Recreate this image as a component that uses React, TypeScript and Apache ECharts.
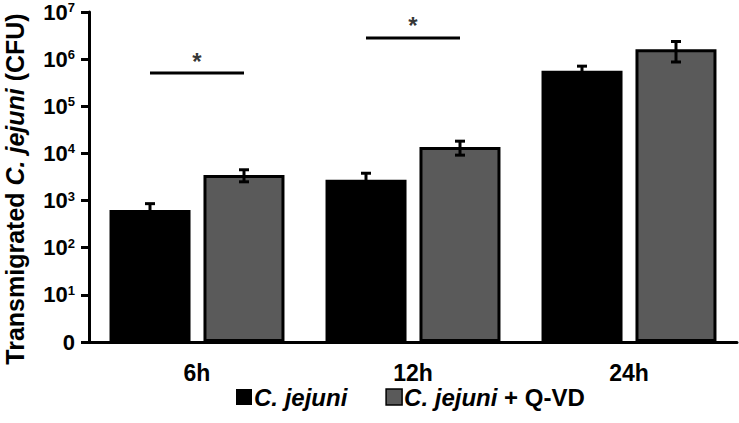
import React, { useEffect, useRef } from "react";
import * as echarts from "echarts";

const categories = ["6h", "12h", "24h"];
const cjejuni = [630, 2750, 570000];
const cjejuniErr = [230, 1050, 140000];
const qvd = [3500, 13700, 1620000];
const qvdErr = [1000, 4500, 750000];
// significance brackets: category index and height (CFU)
const sigCategory = [0, 1];
const sigHeight = [508000, 2810000];
const sigLabel = ["*", "*"];

const FONT = "'Liberation Sans', Arial, sans-serif";
const OFF = 0.2176;

export default function App() {
  const ref = useRef<HTMLDivElement>(null);
  useEffect(() => {
    document.body.style.margin = "0";
    const chart = echarts.init(ref.current!, null, { renderer: "svg" });

    const errData: number[][] = [];
    categories.forEach((_, i) => {
      errData.push([i - OFF, cjejuni[i] - cjejuniErr[i], cjejuni[i] + cjejuniErr[i]]);
      errData.push([i + OFF, qvd[i] - qvdErr[i], qvd[i] + qvdErr[i]]);
    });

    const sigLines: any[] = sigCategory.map((c, k) => ({
      type: "line",
      xAxisIndex: 1,
      data: [
        [c - OFF, sigHeight[k]],
        [c + OFF, sigHeight[k]],
      ],
      symbol: "none",
      lineStyle: { color: "#000", width: 3 },
      silent: true,
      z: 5,
    }));

    const option: any = {
      animation: false,
      textStyle: { fontFamily: FONT },
      grid: { left: 89, right: 2, top: 12, bottom: 81, containLabel: false, outerBoundsMode: "none" },
      legend: {
        left: 231,
        top: 380,
        itemWidth: 16,
        itemHeight: 16,
        itemGap: 38,
        icon: "rect",
        data: [
          { name: "cj", itemStyle: { borderWidth: 0 } },
          { name: "qvd", itemStyle: { borderColor: "#000", borderWidth: 1.5 } },
        ],
        formatter: (name: string) =>
          name === "cj" ? "{i|C. jejuni}" : "{i|C. jejuni}{n| + Q-VD}",
        textStyle: {
          fontFamily: FONT,
          fontSize: 24,
          fontWeight: "bold",
          color: "#000",
          padding: [0, 0, 0, -3],
          rich: {
            i: { fontFamily: FONT, fontSize: 24, fontWeight: "bold", fontStyle: "italic", color: "#000" },
            n: { fontFamily: FONT, fontSize: 24, fontWeight: "bold", color: "#000" },
          },
        },
      },
      xAxis: [
        {
          type: "category",
          data: categories,
          axisLine: { onZero: false, lineStyle: { color: "#000", width: 3 } },
          axisTick: { show: false },
          axisLabel: {
            color: "#000",
            fontFamily: FONT,
            fontSize: 23,
            fontWeight: "bold",
            margin: 19,
          },
        },
        {
          type: "value",
          min: -0.5,
          max: 2.5,
          show: false,
        },
      ],
      yAxis: {
        type: "log",
        logBase: 10,
        min: 1,
        max: 10000000,
        splitNumber: 7,
        splitLine: { show: false },
        axisLine: { show: true, onZero: false, lineStyle: { color: "#000", width: 3 } },
        axisTick: { show: true, length: 8, lineStyle: { color: "#000", width: 3 } },
        axisLabel: {
          margin: 14,
          formatter: (v: number) => {
            if (v <= 1) return "{b|0}";
            return "{b|10}{s|" + Math.round(Math.log10(v)) + "}";
          },
          rich: {
            b: { fontFamily: FONT, fontSize: 22, fontWeight: "bold", color: "#000", lineHeight: 22 },
            s: {
              fontFamily: FONT,
              fontSize: 13,
              fontWeight: "bold",
              color: "#000",
              verticalAlign: "top",
              lineHeight: 13,
            },
          },
        },
        name: "{n|Transmigrated }{i|C. jejuni}{n| (CFU)}",
        nameLocation: "middle",
        nameGap: 62,
        nameTextStyle: {
          padding: [0, 24, 0, 0],
          rich: {
            n: { fontFamily: FONT, fontSize: 25, fontWeight: "bold", color: "#000" },
            i: { fontFamily: FONT, fontSize: 25, fontWeight: "bold", fontStyle: "italic", color: "#000" },
          },
        },
      },
      series: [
        {
          name: "cj",
          type: "bar",
          data: cjejuni,
          barWidth: 81,
          barGap: "16%",
          itemStyle: { color: "#000", borderColor: "#000", borderWidth: 3 },
        },
        {
          name: "qvd",
          type: "bar",
          data: qvd,
          barWidth: 81,
          barGap: "16%",
          itemStyle: { color: "#5a5a5a", borderColor: "#000", borderWidth: 3 },
        },
        {
          type: "custom",
          xAxisIndex: 1,
          data: errData,
          z: 6,
          silent: true,
          renderItem: (params: any, api: any) => {
            const x = api.value(0);
            const lo = api.coord([x, api.value(1)]);
            const hi = api.coord([x, api.value(2)]);
            const cap = 5;
            const style = { stroke: "#000", lineWidth: 3 };
            return {
              type: "group",
              children: [
                { type: "line", shape: { x1: hi[0], y1: hi[1], x2: lo[0], y2: lo[1] }, style },
                { type: "line", shape: { x1: hi[0] - cap, y1: hi[1], x2: hi[0] + cap, y2: hi[1] }, style },
                { type: "line", shape: { x1: lo[0] - cap, y1: lo[1], x2: lo[0] + cap, y2: lo[1] }, style },
              ],
            };
          },
        },
        ...sigLines,
        {
          type: "scatter",
          xAxisIndex: 1,
          symbolSize: 0,
          silent: true,
          data: sigCategory.map((c, k) => [c, sigHeight[k]]),
          label: {
            show: true,
            position: "top",
            distance: 0,
            formatter: (p: any) => sigLabel[p.dataIndex],
            fontFamily: FONT,
            fontSize: 24,
            fontWeight: "bold",
            color: "#000",
          },
          z: 7,
        },
      ],
    };
    chart.setOption(option);
    return () => chart.dispose();
  }, []);
  return <div ref={ref} style={{ width: 739, height: 423 }} />;
}
